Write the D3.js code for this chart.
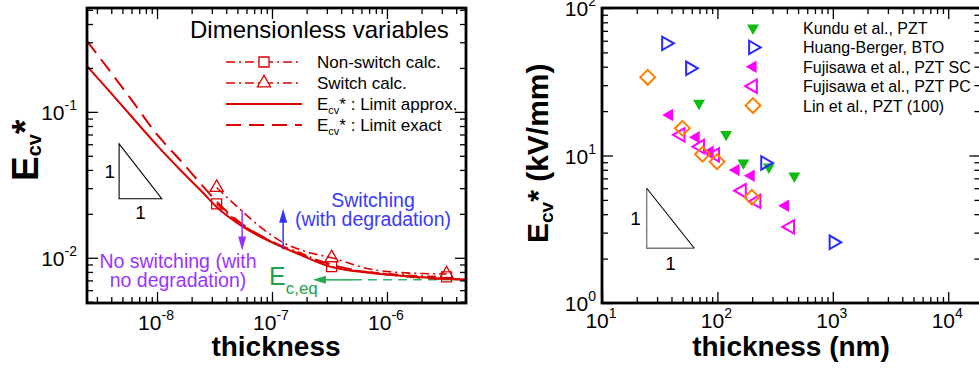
<!DOCTYPE html>
<html>
<head>
<meta charset="utf-8">
<script src="https://cdn.jsdelivr.net/npm/d3@7"></script>
<style>
  body { margin: 0; background: #fff; }
  svg { display: block; font-family: "Liberation Sans", Arial, Helvetica, sans-serif; }
</style>
</head>
<body>
<svg id="chart" width="979" height="370"></svg>
<script>
// ---- left panel: dimensionless E_cv* vs thickness ----
const approxT = [2.46e-9, 4e-9, 6e-9, 1e-8, 1.7e-8, 2.5e-8, 3.3e-8, 5.6e-8, 1.1e-7, 1.75e-7, 3.2e-7, 1.06e-6, 2e-6, 4.87e-6];
const approxE = [0.206, 0.134, 0.093, 0.059, 0.038, 0.028, 0.0223, 0.0163, 0.0123, 0.0105, 0.0087, 0.00765, 0.00735, 0.00706];
const exactT = [2.46e-9, 4e-9, 6e-9, 1e-8, 1.7e-8, 2.5e-8, 3.3e-8, 5e-8, 1e-7, 2e-7, 5e-7, 1e-6, 2e-6, 4.87e-6];
const exactE = [0.306, 0.185, 0.121, 0.070, 0.044, 0.031, 0.0243, 0.0180, 0.0129, 0.0102, 0.0083, 0.0077, 0.0073, 0.0071];
const nonSwitchT = [3.3e-8, 5e-8, 1e-7, 2e-7, 3.3e-7, 7e-7, 1.5e-6, 3.3e-6];
const nonSwitchE = [0.0234, 0.0178, 0.0129, 0.0104, 0.0087, 0.0080, 0.0076, 0.0074];
const nonSwitchMarks = [0, 4, 7];
const switchT = [3.3e-8, 5e-8, 7.9e-8, 1.25e-7, 2e-7, 3.3e-7, 7.5e-7, 2e-6, 3.3e-6];
const switchE = [0.0303, 0.0223, 0.0163, 0.0127, 0.0110, 0.0100, 0.0083, 0.0078, 0.00775];
const switchMarks = [0, 5, 8];
const ecEq = 0.00706;
const ecArrowT = [2.27e-7, 5.06e-7, 3.9e-6];   // arrow tip, end of solid part, end of dashes
const purpleArrow = [5.5e-8, 0.0213, 0.0112];  // t, from, to
const blueArrow = [1.25e-7, 0.0114, 0.0217];
const leftSlope = [4.68e-9, 1.1e-8, 0.0254, 0.0604]; // t0, t1, low, high
const leftXTicks = [1e-8, 1e-7, 1e-6];
const leftYTicks = [1e-2, 1e-1];

// ---- right panel: measured E_cv* (kV/mm) vs thickness (nm) ----
const kunduT = [69.3, 119, 168, 279, 464];
const kunduE = [22.6, 13.9, 8.9, 8.36, 7.26];
const huangT = [35.9, 57.9, 259, 1014];
const huangE = [57.6, 39, 8.9, 2.58];
const fujiScT = [38.4, 65.4, 86.3, 145, 196, 388];
const fujiScE = [18.8, 13.3, 10.6, 7.98, 7.3, 4.57];
const fujiPcT = [48, 70.8, 95.5, 163, 218, 427];
const fujiPcE = [13.8, 11.5, 10.1, 5.77, 4.89, 3.28];
const linT = [24.9, 49.7, 74.3, 99.3, 199];
const linE = [33.9, 15.3, 10.2, 9.08, 5.21];
const rightNames = ['Kundu et al., PZT', 'Huang-Berger, BTO', 'Fujisawa et al., PZT SC', 'Fujisawa et al., PZT PC', 'Lin et al., PZT (100)'];
const rightSlope = [24.4, 63.1, 2.35, 6.0];
const rightXTicks = [1e1, 1e2, 1e3, 1e4];
const rightYTicks = [1, 10, 100];

const RED = '#dd0000';
const svg = d3.select('#chart');

function decadeTicks(lo, hi) {
  const major = [], minor = [];
  for (let e = Math.floor(Math.log10(lo)); e <= Math.ceil(Math.log10(hi)); e++) {
    for (let m = 1; m < 10; m++) {
      const v = +(m + 'e' + e);
      if (v < lo * 0.999 || v > hi * 1.001) continue;
      (m === 1 ? major : minor).push(v);
    }
  }
  return { major, minor };
}

function frame(g, x, y, w, h) {
  const xt = decadeTicks(...x.domain()), yt = decadeTicks(...y.domain());
  const add = (axis, tr) => g.append('g').attr('transform', tr).call(axis)
    .call(s => s.select('.domain').remove())
    .call(s => s.selectAll('line').attr('stroke', '#000').attr('stroke-width', 1.3));
  [[xt.minor, 6], [xt.major, 11]].forEach(([vals, len]) => {
    add(d3.axisBottom(x).tickValues(vals).tickSize(-len).tickFormat(''), `translate(0,${h})`);
    add(d3.axisTop(x).tickValues(vals).tickSize(-len).tickFormat(''), 'translate(0,0)');
  });
  [[yt.minor, 6], [yt.major, 11]].forEach(([vals, len]) => {
    add(d3.axisLeft(y).tickValues(vals).tickSize(-len).tickFormat(''), 'translate(0,0)');
    add(d3.axisRight(y).tickValues(vals).tickSize(-len).tickFormat(''), `translate(${w},0)`);
  });
  g.append('rect').attr('width', w).attr('height', h)
    .attr('fill', 'none').attr('stroke', '#000').attr('stroke-width', 2.8);
}

function powLabel(g, px, py, exp, anchor) {
  const t = g.append('text').attr('x', px).attr('y', py)
    .attr('text-anchor', anchor).attr('font-size', 21);
  t.append('tspan').text('10');
  t.append('tspan').attr('font-size', 14).attr('dy', -10).text(exp);
}

const sym = (type, size) => d3.symbol().type(type).size(size)();

// ================= LEFT =================
const L = { x: 87, y: 8, w: 379, h: 295 };
const gl = svg.append('g').attr('transform', `translate(${L.x},${L.y})`);
const xl = d3.scaleLog().domain([2.46e-9, 4.87e-6]).range([0, L.w]);
const yl = d3.scaleLog().domain([0.0049, 0.515]).range([L.h, 0]);

svg.append('clipPath').attr('id', 'clipL').append('rect').attr('width', L.w).attr('height', L.h);
const plotL = gl.append('g').attr('clip-path', 'url(#clipL)');

const lineL = d3.line().x(d => xl(d[0])).y(d => yl(d[1])).curve(d3.curveMonotoneX);
const zip = (a, b) => a.map((v, i) => [v, b[i]]);

// green E_c,eq arrow
plotL.append('line')
  .attr('x1', xl(ecArrowT[1])).attr('x2', xl(ecArrowT[2]))
  .attr('y1', yl(ecEq)).attr('y2', yl(ecEq))
  .attr('stroke', '#33bb66').attr('stroke-width', 1.5).attr('stroke-dasharray', '9,6');
plotL.append('line')
  .attr('x1', xl(ecArrowT[0]) + 10).attr('x2', xl(ecArrowT[1]))
  .attr('y1', yl(ecEq)).attr('y2', yl(ecEq))
  .attr('stroke', '#22aa55').attr('stroke-width', 1.5);
plotL.append('path')
  .attr('d', d3.line()([[xl(ecArrowT[0]), yl(ecEq)], [xl(ecArrowT[0]) + 13, yl(ecEq) - 4], [xl(ecArrowT[0]) + 13, yl(ecEq) + 4]]) + 'Z')
  .attr('fill', '#22aa55');

plotL.append('path').datum(zip(exactT, exactE)).attr('d', lineL)
  .attr('fill', 'none').attr('stroke', RED).attr('stroke-width', 2).attr('stroke-dasharray', '15,8');
plotL.append('path').datum(zip(approxT, approxE)).attr('d', lineL)
  .attr('fill', 'none').attr('stroke', RED).attr('stroke-width', 2);
plotL.append('path').datum(zip(nonSwitchT, nonSwitchE)).attr('d', lineL)
  .attr('fill', 'none').attr('stroke', RED).attr('stroke-width', 1.6).attr('stroke-dasharray', '9,4,2,4');
plotL.append('path').datum(zip(switchT, switchE)).attr('d', lineL)
  .attr('fill', 'none').attr('stroke', RED).attr('stroke-width', 1.6).attr('stroke-dasharray', '9,4,2,4');

plotL.selectAll('.sq').data(nonSwitchMarks).join('path')
  .attr('d', sym(d3.symbolSquare, 100))
  .attr('transform', i => `translate(${xl(nonSwitchT[i])},${yl(nonSwitchE[i])})`)
  .attr('fill', 'none').attr('stroke', RED).attr('stroke-width', 1.3);
plotL.selectAll('.tri').data(switchMarks).join('path')
  .attr('d', sym(d3.symbolTriangle, 75))
  .attr('transform', i => `translate(${xl(switchT[i])},${yl(switchE[i])})`)
  .attr('fill', 'none').attr('stroke', RED).attr('stroke-width', 1.3);

// vertical annotation arrows
function vArrow(g, spec, color) {
  const [t, from, to] = spec;
  const px = xl(t), y0 = yl(from), y1 = yl(to);
  const dir = y1 > y0 ? 1 : -1;
  g.append('line').attr('x1', px).attr('x2', px).attr('y1', y0).attr('y2', y1 - dir * 10)
    .attr('stroke', color).attr('stroke-width', 1.5);
  g.append('path').attr('d', d3.line()([[px, y1], [px - 4, y1 - dir * 14], [px + 4, y1 - dir * 14]]) + 'Z')
    .attr('fill', color);
}
vArrow(gl, purpleArrow, '#9933ff');
vArrow(gl, blueArrow, '#3333ff');

// slope triangle
gl.append('path')
  .attr('d', d3.line()([[xl(leftSlope[0]), yl(leftSlope[3])], [xl(leftSlope[0]), yl(leftSlope[2])], [xl(leftSlope[1]), yl(leftSlope[2])]]) + 'Z')
  .attr('fill', 'none').attr('stroke', '#000').attr('stroke-width', 1.1);
gl.append('text').attr('x', xl(leftSlope[0]) - 4).attr('y', (yl(leftSlope[2]) + yl(leftSlope[3])) / 2 + 7)
  .attr('text-anchor', 'end').attr('font-size', 19).text('1');
gl.append('text').attr('x', (xl(leftSlope[0]) + xl(leftSlope[1])) / 2).attr('y', yl(leftSlope[2]) + 20)
  .attr('text-anchor', 'middle').attr('font-size', 19).text('1');

frame(gl, xl, yl, L.w, L.h);

leftXTicks.forEach(v => powLabel(gl, xl(v) - 1, L.h + 27, String(Math.round(Math.log10(v))), 'middle'));
leftYTicks.forEach(v => powLabel(gl, -10, yl(v) + 8, String(Math.round(Math.log10(v))), 'end'));

// annotation texts
const ann = gl.append('g').attr('font-size', 19.5).attr('text-anchor', 'middle');
ann.append('text').attr('x', 91).attr('y', 260).attr('fill', '#9933ff').text('No switching (with');
ann.append('text').attr('x', 91).attr('y', 279).attr('fill', '#9933ff').text('no degradation)');
ann.append('text').attr('x', 286).attr('y', 199).attr('fill', '#3a3aff').text('Switching');
ann.append('text').attr('x', 286).attr('y', 218).attr('fill', '#3a3aff').text('(with degradation)');
const ect = gl.append('text').attr('x', 182).attr('y', 277).attr('fill', '#22a050').attr('font-size', 25);
ect.append('tspan').text('E');
ect.append('tspan').attr('font-size', 17).attr('dy', 9).text('c,eq');

// legend
const lg = gl.append('g');
lg.append('text').attr('x', 103).attr('y', 30).attr('font-size', 24).text('Dimensionless variables');
const legRows = [
  { dash: '9,4,2,4', mark: d3.symbolSquare, size: 100, label: ['Non-switch calc.'] },
  { dash: '9,4,2,4', mark: d3.symbolTriangle, size: 75, label: ['Switch calc.'] },
  { dash: null, mark: null, label: ['E', 'cv', '* : Limit approx.'] },
  { dash: '15,8', mark: null, label: ['E', 'cv', '* : Limit exact'] }
];
legRows.forEach((r, i) => {
  const cy = 54 + i * 21;
  lg.append('line').attr('x1', 139).attr('x2', 215).attr('y1', cy).attr('y2', cy)
    .attr('stroke', RED).attr('stroke-width', r.mark ? 1.6 : 2)
    .attr('stroke-dasharray', r.dash);
  if (r.mark) {
    lg.append('path').attr('d', sym(r.mark, r.size)).attr('transform', `translate(177,${cy})`)
      .attr('fill', '#fff').attr('stroke', RED).attr('stroke-width', 1.3);
  }
  const t = lg.append('text').attr('x', 230).attr('y', cy + 6).attr('font-size', 17);
  t.append('tspan').text(r.label[0]);
  if (r.label.length > 1) {
    t.append('tspan').attr('font-size', 11).attr('dy', 4).text(r.label[1]);
    t.append('tspan').attr('dy', -4).text(r.label[2]);
  }
});

// axis titles
svg.append('text').attr('x', 276).attr('y', 356).attr('text-anchor', 'middle')
  .attr('font-size', 28).attr('font-weight', 'bold').text('thickness');
const ylab = svg.append('text').attr('transform', 'translate(38,181) rotate(-90)')
  .attr('font-size', 37).attr('font-weight', 'bold');
ylab.append('tspan').text('E');
ylab.append('tspan').attr('font-size', 20).attr('dy', 3).text('cv');
ylab.append('tspan').attr('dy', -3).text('*');

// ================= RIGHT =================
const R = { x: 602, y: 8, w: 378.4, h: 295 };
const gr = svg.append('g').attr('transform', `translate(${R.x},${R.y})`);
const xr = d3.scaleLog().domain([10, 1.9e4]).range([0, R.w]);
const yr = d3.scaleLog().domain([1, 100]).range([R.h, 0]);

const series = [
  { t: kunduT, e: kunduE, type: d3.symbolTriangle, size: 62, rot: 180, color: '#11bb11', fill: true },
  { t: huangT, e: huangE, type: d3.symbolTriangle, size: 78, rot: 90, color: '#2a2aff', fill: false },
  { t: fujiScT, e: fujiScE, type: d3.symbolTriangle, size: 68, rot: -90, color: '#ff00ff', fill: true },
  { t: fujiPcT, e: fujiPcE, type: d3.symbolTriangle, size: 78, rot: -90, color: '#ff00ff', fill: false },
  { t: linT, e: linE, type: d3.symbolSquare, size: 110, rot: 45, color: '#ff8000', fill: false }
];

// slope triangle
gr.append('path')
  .attr('d', d3.line()([[xr(rightSlope[0]), yr(rightSlope[3])], [xr(rightSlope[0]), yr(rightSlope[2])], [xr(rightSlope[1]), yr(rightSlope[2])]]))
  .attr('fill', 'none').attr('stroke', '#777').attr('stroke-width', 1.3);
gr.append('line')
  .attr('x1', xr(rightSlope[0])).attr('y1', yr(rightSlope[3]))
  .attr('x2', xr(rightSlope[1])).attr('y2', yr(rightSlope[2]))
  .attr('stroke', '#000').attr('stroke-width', 1.1);
gr.append('text').attr('x', xr(rightSlope[0]) - 6).attr('y', (yr(rightSlope[2]) + yr(rightSlope[3])) / 2 + 7)
  .attr('text-anchor', 'end').attr('font-size', 19).text('1');
gr.append('text').attr('x', (xr(rightSlope[0]) + xr(rightSlope[1])) / 2).attr('y', yr(rightSlope[2]) + 22)
  .attr('text-anchor', 'middle').attr('font-size', 19).text('1');

series.forEach((s, k) => {
  gr.selectAll(null).data(d3.range(s.t.length)).join('path')
    .attr('d', sym(s.type, s.size))
    .attr('transform', i => `translate(${xr(s.t[i])},${yr(s.e[i])}) rotate(${s.rot})`)
    .attr('fill', s.fill ? s.color : 'none')
    .attr('stroke', s.fill ? 'none' : s.color).attr('stroke-width', 2);
  const cy = 20 + k * 19.4;
  gr.append('path').attr('d', sym(s.type, s.size))
    .attr('transform', `translate(151,${cy}) rotate(${s.rot})`)
    .attr('fill', s.fill ? s.color : 'none')
    .attr('stroke', s.fill ? 'none' : s.color).attr('stroke-width', 2);
  gr.append('text').attr('x', 201).attr('y', cy + 6).attr('font-size', 16).text(rightNames[k]);
});

frame(gr, xr, yr, R.w, R.h);

rightXTicks.forEach(v => powLabel(gr, xr(v) - 1, R.h + 25, String(Math.round(Math.log10(v))), 'middle'));
rightYTicks.forEach(v => powLabel(gr, -6, yr(v) + 8, String(Math.round(Math.log10(v))), 'end'));

svg.append('text').attr('x', 791).attr('y', 356).attr('text-anchor', 'middle')
  .attr('font-size', 28).attr('font-weight', 'bold').text('thickness (nm)');
const ylab2 = svg.append('text').attr('transform', 'translate(548,243) rotate(-90)')
  .attr('font-size', 30).attr('font-weight', 'bold');
ylab2.append('tspan').text('E');
ylab2.append('tspan').attr('font-size', 19).attr('dy', 5).text('cv');
ylab2.append('tspan').attr('dy', -5).text('* (kV/mm)');
</script>
</body>
</html>
